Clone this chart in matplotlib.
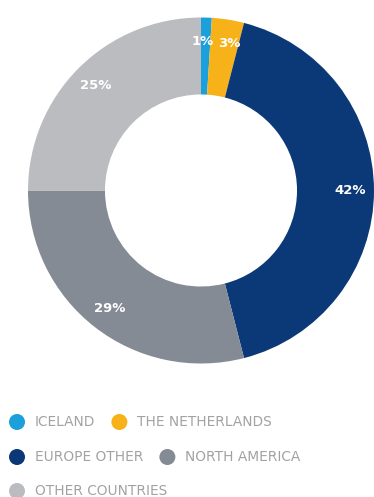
import matplotlib
matplotlib.use("Agg")
import matplotlib.pyplot as plt
from matplotlib.patches import Circle
from matplotlib.transforms import offset_copy

# Share of total by market
categories = ["ICELAND", "THE NETHERLANDS", "EUROPE OTHER", "NORTH AMERICA", "OTHER COUNTRIES"]
shares = [1, 3, 42, 29, 25]
colors = ["#1ba0dc", "#f7b219", "#0b3877", "#858b94", "#bbbcbf"]
legend_rows = [[0, 1], [2, 3], [4]]

W, H = 374, 497
fig = plt.figure(figsize=(W / 100, H / 100), dpi=100)
fig.patch.set_facecolor("white")

# Donut
cx, cy, R = 201, 190.5, 173
ax = fig.add_axes([(cx - R) / W, (H - cy - R) / H, 2 * R / W, 2 * R / H])
wedges, _, autotexts = ax.pie(
    shares, colors=colors, startangle=90, counterclock=False, radius=1,
    wedgeprops=dict(width=0.445, edgecolor="none"),
    autopct=lambda p: f"{p:.0f}%", pctdistance=0.86,
    textprops=dict(color="white", fontsize=9.5, fontweight="bold"),
)
# the two thin slices at the top: nudge their labels apart a little
autotexts[0].set_transform(offset_copy(ax.transData, fig=fig, x=-3, y=0, units="dots"))
autotexts[1].set_transform(offset_copy(ax.transData, fig=fig, x=5, y=0, units="dots"))
ax.set_xlim(-1, 1)
ax.set_ylim(-1, 1)
ax.set_aspect("equal")
ax.axis("off")

# Legend drawn in pixel space, flowing left to right within each row
lax = fig.add_axes([0, 0, 1, 1])
lax.set_xlim(0, W)
lax.set_ylim(H, 0)
lax.axis("off")
renderer = fig.canvas.get_renderer()
row_y = [422, 457, 491]
for row, y in zip(legend_rows, row_y):
    x = 17
    for i in row:
        lax.add_patch(Circle((x, y), 8, color=colors[i], lw=0))
        t = lax.text(x + 18, y, categories[i], fontsize=9.9, color="#a2a2a2",
                     va="center", ha="left", family="DejaVu Sans")
        bb = t.get_window_extent(renderer)
        x = bb.x1 + 24

fig.savefig("out.png", dpi=100, facecolor="white")
